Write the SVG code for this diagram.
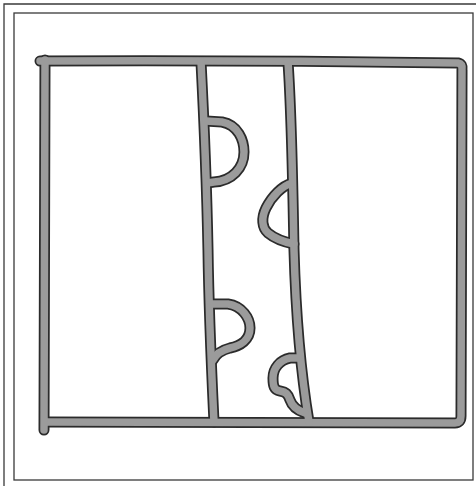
<svg xmlns="http://www.w3.org/2000/svg" xmlns:xlink="http://www.w3.org/1999/xlink" width="476" height="486" viewBox="0 0 476 486">
<style>
.frame{fill:none;stroke:#3a3a3a;stroke-width:1.3}
.outline{fill:none;stroke:#2b2b2b;stroke-width:11;stroke-linecap:round;stroke-linejoin:round}
.core{fill:none;stroke:#9b9b9b;stroke-width:7.5;stroke-linecap:round;stroke-linejoin:round}
</style>
<defs>
<g id="shapes">
<path d="M40,61 Q250,60 458,63 Q463,64 462,70 L461,416 Q461,423 455,423 L46,422"/>
<path d="M45,60 L44,430"/>
<path d="M201,62 C204,120 207,200 208,250 C209,320 212,380 214,422"/>
<path d="M288,62 C292,120 293,200 294,250 C296,320 302,380 309,422"/>
<path d="M206,121 L222,122 C238,125 244,140 244,152 C244,168 232,181 214,182 L207,183"/>
<path d="M211,304 L228,304 C242,306 250,318 250,328 C250,340 240,346 230,348 C222,350 216,354 213,360"/>
<path d="M292,183 C282,186 272,196 266,208 C261,218 262,228 268,233 C274,238 284,242 294,244"/>
<path d="M299,358 L290,358 C280,360 273,368 273,378 C273,386 274,390 280,391 C286,392 288,394 290,400 C292,406 296,410 305,413"/>
</g>
</defs>
<g id="frames">
<path class="frame" d="M4,486 L4,4 L476,4"/>
<rect class="frame" x="14" y="13" width="459" height="467"/>
</g>
<g id="drawing">
<use xlink:href="#shapes" class="outline"/>
<use xlink:href="#shapes" class="core"/>
</g>
</svg>
